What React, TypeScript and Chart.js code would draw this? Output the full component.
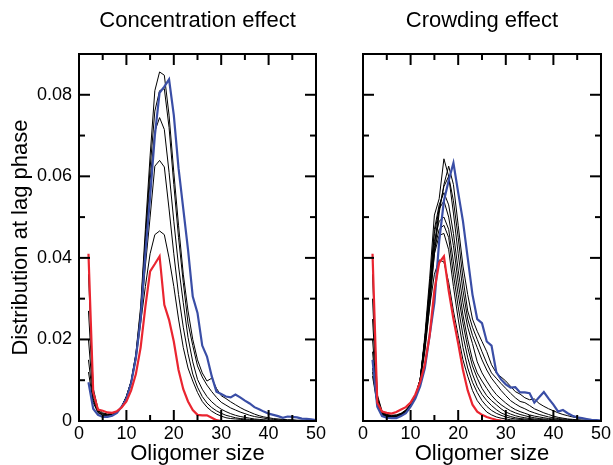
import React, { useEffect, useRef } from 'react';
import { Chart, registerables } from 'chart.js';

Chart.register(...registerables);

const FONT = "'Liberation Sans', Arial, Helvetica, sans-serif";

// Oligomer sizes (x categories)
const sizes = [2,3,4,5,6,7,8,9,10,11,12,13,14,15,16,17,18,19,20,21,22,23,24,25,26,27,28,29,30,31,32,33,34,35,36,37,38,39,40,41,42,43,44,45,46,47,48,49,50];

const xMajorTicks = [0, 10, 20, 30, 40, 50];
const xMinorTicks = [5, 15, 25, 35, 45];
const yMajorTicks = [0, 0.02, 0.04, 0.06, 0.08];
const yMinorTicks = [0.01, 0.03, 0.05, 0.07];

// ---- Concentration effect ----
const concRed = [0.041,0.007,0.0028,0.0025,0.0021,0.002,0.0024,0.0033,0.0048,0.0075,0.0115,0.018,0.028,0.0367,0.0385,0.0404,0.0285,0.0248,0.0195,0.0125,0.0078,0.0048,0.0027,0.0015,0.0014,0.0014,0.0008,0.0002,0];
const concBlue = [0.0095,0.003,0.0015,0.001,0.001,0.0013,0.002,0.0035,0.0055,0.0093,0.0155,0.025,0.041,0.055,0.07,0.0805,0.082,0.0838,0.075,0.062,0.052,0.042,0.0305,0.0265,0.0185,0.0158,0.011,0.0072,0.0066,0.006,0.0058,0.0065,0.0058,0.005,0.0043,0.0034,0.0029,0.0023,0.0018,0.0015,0.0012,0.0008,0.0011,0.001,0.0009,0.0006,0.0005,0.0004,0.0002];
const concK1 = [0.012,0.0045,0.002,0.0014,0.0013,0.0015,0.0021,0.0035,0.006,0.0098,0.0165,0.028,0.047,0.065,0.081,0.0856,0.0848,0.075,0.061,0.048,0.036,0.027,0.02,0.015,0.0118,0.0098,0.0105,0.008,0.0062,0.0055,0.0047,0.004,0.0033,0.0027,0.0022,0.0017,0.0013,0.001,0.0008,0.0006,0.0005,0.0004,0.0003,0.0003,0.0002,0.0002,0.0001,0.0001,0.0001];
const concK2 = [0.015,0.005,0.0022,0.0015,0.0014,0.0016,0.0022,0.0036,0.006,0.0097,0.0163,0.027,0.045,0.062,0.076,0.081,0.0815,0.072,0.058,0.045,0.034,0.024,0.0185,0.0135,0.0108,0.0088,0.0072,0.0058,0.0046,0.0039,0.0032,0.0027,0.0022,0.0018,0.0014,0.0011,0.0009,0.0007,0.0005,0.0004,0.0003,0.0003,0.0002,0.0002,0.0001,0.0001,0.0001,0.0001,0];
const concK3 = [0.02,0.0055,0.0024,0.0017,0.0015,0.0017,0.0023,0.0036,0.006,0.0096,0.016,0.026,0.044,0.059,0.071,0.0744,0.0715,0.061,0.049,0.038,0.029,0.0205,0.0145,0.0102,0.0078,0.006,0.0047,0.0037,0.0029,0.0023,0.0018,0.0014,0.0011,0.0009,0.0007,0.0005,0.0004,0.0003,0.0002,0.0002,0.0001,0.0001,0.0001,0.0001,0.0001,0,0,0,0];
const concK4 = [0.027,0.0065,0.0026,0.0018,0.0016,0.0017,0.0023,0.0036,0.006,0.0095,0.0158,0.025,0.038,0.05,0.0625,0.0639,0.0623,0.052,0.041,0.031,0.023,0.0165,0.0115,0.0083,0.006,0.0044,0.0033,0.0025,0.0019,0.0014,0.0011,0.0008,0.0006,0.0005,0.0004,0.0003,0.0002,0.0002,0.0001,0.0001,0.0001,0.0001,0,0,0,0,0,0,0];
const concK5 = [0.036,0.008,0.003,0.002,0.0017,0.0018,0.0023,0.0035,0.0058,0.0092,0.015,0.024,0.033,0.041,0.0457,0.0466,0.0457,0.04,0.033,0.025,0.018,0.013,0.0098,0.007,0.0048,0.0034,0.0024,0.0017,0.0012,0.0008,0.0006,0.0005,0.0004,0.0003,0.0002,0.0002,0.0001,0.0001,0.0001,0,0,0,0,0,0,0,0,0,0];

// ---- Crowding effect ----
const crowdRed = [0.041,0.0045,0.0023,0.002,0.0018,0.0022,0.0028,0.0034,0.0045,0.0065,0.0095,0.014,0.021,0.032,0.0388,0.0404,0.032,0.025,0.019,0.0125,0.0075,0.004,0.0023,0.0015,0.001,0.0006,0.0003,0.0001,0];
const crowdBlue = [0.015,0.0035,0.0012,0.0008,0.0007,0.0007,0.0012,0.0019,0.0035,0.0055,0.0085,0.013,0.021,0.029,0.044,0.054,0.059,0.0633,0.056,0.049,0.04,0.031,0.025,0.024,0.0195,0.0185,0.012,0.0102,0.009,0.0082,0.0083,0.007,0.007,0.0068,0.0045,0.0058,0.0071,0.0055,0.004,0.0023,0.0027,0.0019,0.0013,0.0009,0.0007,0.0005,0.0003,0.0002,0.0001];
const crowdK1 = [0.013,0.0045,0.0018,0.0012,0.001,0.0011,0.0015,0.0024,0.0038,0.006,0.01,0.021,0.035,0.0505,0.0545,0.0643,0.06,0.051,0.041,0.032,0.025,0.021,0.018,0.015,0.0125,0.0105,0.009,0.0075,0.0062,0.005,0.0042,0.0035,0.003,0.0024,0.002,0.0016,0.0013,0.001,0.0008,0.0006,0.0005,0.0004,0.0003,0.0002,0.0002,0.0001,0.0001,0.0001,0];
const crowdK2 = [0.011,0.004,0.0015,0.001,0.0009,0.001,0.0014,0.0022,0.0036,0.0058,0.0095,0.017,0.028,0.041,0.051,0.058,0.0625,0.058,0.048,0.038,0.031,0.025,0.022,0.0195,0.017,0.0138,0.0118,0.0108,0.0098,0.0085,0.0072,0.0066,0.0057,0.0052,0.0054,0.0043,0.0036,0.003,0.0025,0.002,0.0016,0.0013,0.001,0.0008,0.0006,0.0004,0.0003,0.0002,0.0001];
const crowdK3 = [0.012,0.0042,0.0016,0.0011,0.001,0.001,0.0014,0.0023,0.0037,0.0059,0.0097,0.018,0.03,0.043,0.052,0.0575,0.06,0.054,0.045,0.035,0.027,0.023,0.02,0.017,0.0142,0.0118,0.0105,0.0092,0.008,0.0068,0.0057,0.0048,0.0045,0.0038,0.003,0.0025,0.002,0.0016,0.0012,0.0009,0.0007,0.0005,0.0004,0.0003,0.0002,0.0001,0.0001,0,0];
const crowdK4 = [0.015,0.0048,0.0018,0.0012,0.001,0.0011,0.0015,0.0024,0.0038,0.006,0.0099,0.02,0.033,0.047,0.053,0.056,0.053,0.046,0.037,0.029,0.023,0.019,0.0145,0.0118,0.0098,0.008,0.0065,0.0054,0.0044,0.0035,0.0028,0.0023,0.0019,0.0015,0.0012,0.001,0.0008,0.0006,0.0005,0.0004,0.0003,0.0002,0.0002,0.0001,0.0001,0.0001,0,0,0];
const crowdK5 = [0.017,0.005,0.0019,0.0013,0.0011,0.0012,0.0016,0.0025,0.0039,0.0061,0.01,0.02,0.033,0.046,0.052,0.054,0.05,0.043,0.034,0.026,0.02,0.015,0.0118,0.0098,0.008,0.0063,0.005,0.004,0.0032,0.0025,0.002,0.0016,0.0013,0.001,0.0008,0.0006,0.0005,0.0004,0.0003,0.0002,0.0002,0.0001,0.0001,0.0001,0,0,0,0,0];
const crowdK6 = [0.02,0.0052,0.002,0.0013,0.0011,0.0012,0.0016,0.0025,0.0039,0.0061,0.0101,0.02,0.032,0.044,0.049,0.05,0.047,0.039,0.031,0.024,0.018,0.0135,0.0105,0.008,0.0062,0.005,0.004,0.003,0.0022,0.0017,0.0013,0.001,0.0008,0.0006,0.0005,0.0004,0.0003,0.0002,0.0002,0.0001,0.0001,0.0001,0,0,0,0,0,0,0];
const crowdK7 = [0.025,0.0055,0.0021,0.0014,0.0012,0.0013,0.0017,0.0026,0.004,0.0062,0.0102,0.02,0.031,0.042,0.047,0.048,0.045,0.036,0.028,0.021,0.0155,0.0115,0.0085,0.0065,0.005,0.0038,0.0028,0.002,0.0015,0.0011,0.0008,0.0006,0.0005,0.0004,0.0003,0.0002,0.0002,0.0001,0.0001,0,0,0,0,0,0,0,0,0,0];
const crowdK8 = [0.03,0.006,0.0022,0.0015,0.0013,0.0014,0.0018,0.0026,0.004,0.0062,0.0102,0.019,0.03,0.041,0.0455,0.046,0.042,0.033,0.025,0.018,0.013,0.0095,0.007,0.005,0.0036,0.0026,0.0019,0.0014,0.001,0.0007,0.0005,0.0004,0.0003,0.0002,0.0002,0.0001,0.0001,0,0,0,0,0,0,0,0,0,0,0,0];
const crowdK9 = [0.036,0.0065,0.0024,0.0016,0.0014,0.0015,0.0019,0.0027,0.0041,0.0063,0.01,0.018,0.028,0.036,0.0395,0.039,0.034,0.027,0.021,0.015,0.011,0.0075,0.005,0.0035,0.0022,0.0015,0.001,0.0007,0.0005,0.0003,0.0002,0.0002,0.0001,0.0001,0,0,0,0,0,0,0,0,0,0,0,0,0,0,0];

const RED = '#ea2530';
const BLUE = '#3a4ea6';
const BLACK = '#000000';

function toPoints(values: number[]) {
  return values.map((v, i) => ({ x: sizes[i], y: v }));
}

function makeDatasets(red: number[], blue: number[], blacks: number[][]) {
  const ds: any[] = [
    { data: toPoints(red), borderColor: RED, borderWidth: 2.2 },
    { data: toPoints(blue), borderColor: BLUE, borderWidth: 2.2 },
  ];
  blacks.forEach((b) => ds.push({ data: toPoints(b), borderColor: BLACK, borderWidth: 1 }));
  return ds.map((d) => ({ ...d, pointRadius: 0, tension: 0, fill: false }));
}

const framePlugin = {
  id: 'innerFrame',
  afterDatasetsDraw(chart: any) {
    const { ctx, chartArea: a, scales } = chart;
    const x = scales.x;
    const y = scales.y;
    ctx.save();
    ctx.strokeStyle = '#000';
    ctx.lineCap = 'butt';
    const seg = (x1: number, y1: number, x2: number, y2: number) => {
      ctx.beginPath();
      ctx.moveTo(x1, y1);
      ctx.lineTo(x2, y2);
      ctx.stroke();
    };
    ctx.lineWidth = 2;
    const major = 11;
    const minor = 6;
    xMajorTicks.forEach((v) => {
      const p = x.getPixelForValue(v);
      seg(p, a.bottom, p, a.bottom - major);
      seg(p, a.top, p, a.top + major);
    });
    xMinorTicks.forEach((v) => {
      const p = x.getPixelForValue(v);
      seg(p, a.bottom, p, a.bottom - minor);
      seg(p, a.top, p, a.top + minor);
    });
    yMajorTicks.forEach((v) => {
      const p = y.getPixelForValue(v);
      seg(a.left, p, a.left + major, p);
      seg(a.right, p, a.right - major, p);
    });
    yMinorTicks.forEach((v) => {
      const p = y.getPixelForValue(v);
      seg(a.left, p, a.left + minor, p);
      seg(a.right, p, a.right - minor, p);
    });
    ctx.lineWidth = 2;
    ctx.strokeRect(a.left, a.top, a.right - a.left, a.bottom - a.top);
    ctx.restore();
  },
};

type PanelProps = {
  left: number;
  width: number;
  title: string;
  showY: boolean;
  yWidth: number;
  padRight: number;
  datasets: any[];
};

function Panel({ left, width, title, showY, yWidth, padRight, datasets }: PanelProps) {
  const ref = useRef<HTMLCanvasElement | null>(null);
  useEffect(() => {
    if (!ref.current) return;
    const chart = new Chart(ref.current, {
      type: 'line',
      data: { datasets },
      options: {
        animation: false,
        responsive: false,
        events: [],
        layout: { padding: { left: 0, right: padRight, top: 0, bottom: 0 } },
        plugins: {
          legend: { display: false },
          tooltip: { enabled: false },
          title: {
            display: true,
            text: title,
            color: '#000',
            fullSize: false,
            font: { family: FONT, size: 22, weight: 'normal', lineHeight: 1.2 },
            padding: { top: 8, bottom: 19.6 },
          },
        },
        scales: {
          x: {
            type: 'linear',
            min: 0,
            max: 50,
            afterBuildTicks: (s: any) => {
              s.ticks = xMajorTicks.map((v) => ({ value: v }));
            },
            afterFit: (s: any) => {
              s.height = 44;
            },
            grid: { display: false, drawTicks: false },
            border: { display: false },
            ticks: {
              color: '#000',
              font: { family: FONT, size: 18 },
              padding: 2,
              maxRotation: 0,
              autoSkip: false,
              callback: (v: any) => String(v),
            },
            title: {
              display: true,
              text: 'Oligomer size',
              color: '#000',
              font: { family: FONT, size: 22, lineHeight: 1 },
              padding: { top: 0, bottom: 0 },
            },
          },
          y: {
            type: 'linear',
            min: 0,
            max: 0.09,
            afterBuildTicks: (s: any) => {
              s.ticks = yMajorTicks.map((v) => ({ value: v }));
            },
            afterFit: (s: any) => {
              s.width = yWidth;
            },
            grid: { display: false, drawTicks: false },
            border: { display: false },
            ticks: {
              display: showY,
              color: '#000',
              font: { family: FONT, size: 18 },
              padding: 7,
              autoSkip: false,
              callback: (v: any) => (Number(v) === 0 ? '0' : Number(v).toFixed(2)),
            },
            title: {
              display: showY,
              text: 'Distribution at lag phase',
              color: '#000',
              font: { family: FONT, size: 22, lineHeight: 1.2 },
              padding: { top: 8, bottom: 0 },
            },
          },
        },
      },
      plugins: [framePlugin],
    } as any);
    return () => chart.destroy();
  }, []);
  return (
    <canvas
      ref={ref}
      width={width}
      height={465}
      style={{ position: 'absolute', left, top: 0, width, height: 465 }}
    />
  );
}

export default function App() {
  const concSets = makeDatasets(concRed, concBlue, [concK1, concK2, concK3, concK4, concK5]);
  const crowdSets = makeDatasets(crowdRed, crowdBlue, [crowdK1, crowdK2, crowdK3, crowdK4, crowdK5, crowdK6, crowdK7, crowdK8, crowdK9]);
  return (
    <div style={{ position: 'fixed', left: 0, top: 0, width: 613, height: 465, background: '#fff', overflow: 'hidden' }}>
      <Panel left={0} width={330} title="Concentration effect" showY={true} yWidth={79} padRight={14} datasets={concSets} />
      <Panel left={330} width={283} title="Crowding effect" showY={false} yWidth={33} padRight={12} datasets={crowdSets} />
    </div>
  );
}
